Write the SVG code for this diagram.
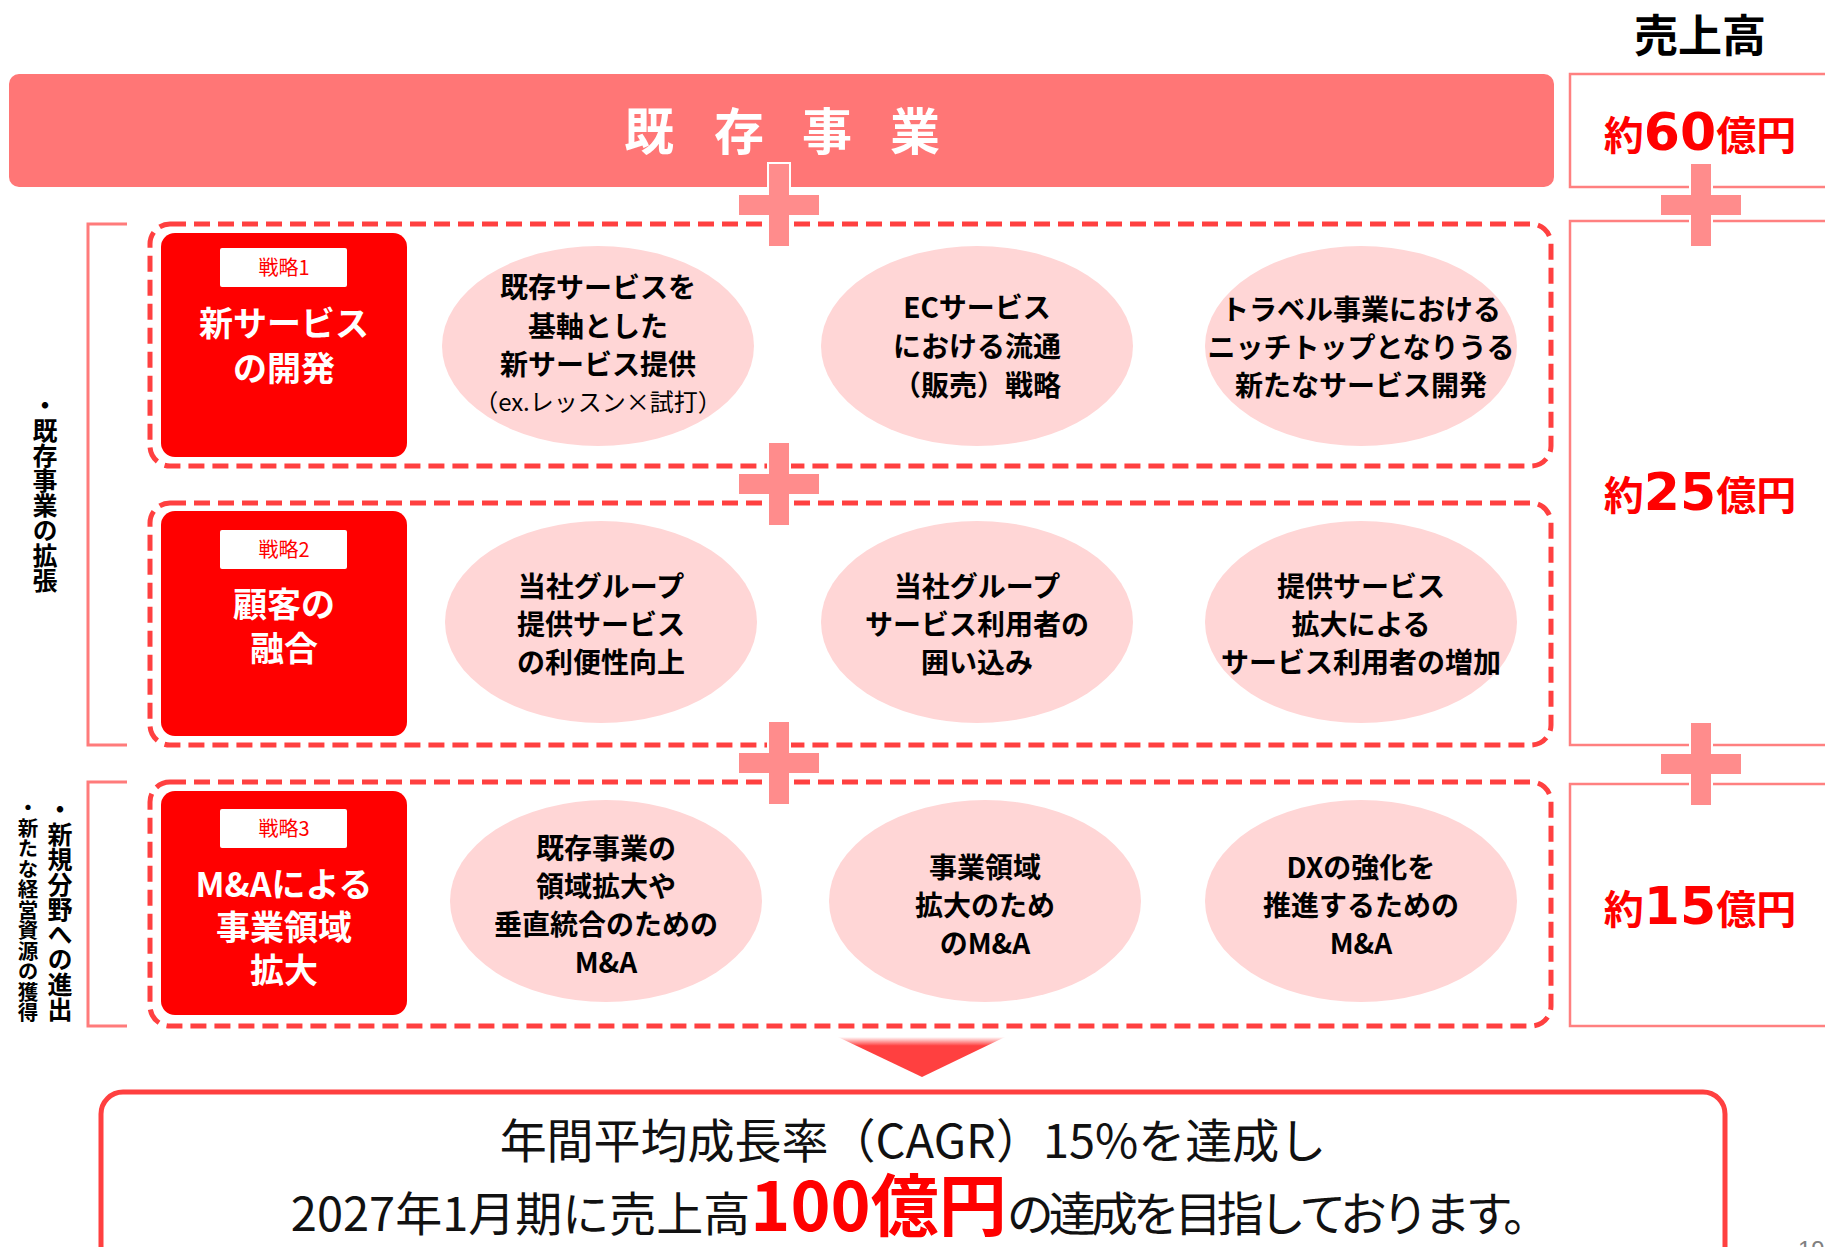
<svg xmlns="http://www.w3.org/2000/svg" width="1825" height="1247" viewBox="0 0 1825 1247">
<style>
.jp{font-family:"Noto Sans CJK JP","Noto Sans",sans-serif}
.ell{fill:#FFD6D6}
.et{font-family:"Noto Sans CJK JP",sans-serif;font-size:28px;font-weight:700;fill:#000;text-anchor:middle}
.et.sub{font-size:24px;font-weight:400}
.dash{fill:none;stroke:#FF4040;stroke-width:5;stroke-dasharray:16 8}
.rbox{fill:#fff;stroke:#FF8080;stroke-width:2.5}
.strat{fill:#FF0000}
.lbl{fill:#fff}
.lt{font-family:"Noto Sans CJK JP",sans-serif;font-size:20px;fill:#FF0000;text-anchor:middle}
.st{font-family:"Noto Sans CJK JP",sans-serif;font-size:34px;font-weight:700;fill:#fff;text-anchor:middle}
.val{font-family:"Noto Sans CJK JP",sans-serif;font-size:40px;font-weight:700;fill:#FF0000;text-anchor:middle}
.num{font-family:"DejaVu Sans",sans-serif;font-size:52px;font-weight:700}
.brk{fill:none;stroke:#FF7B7B;stroke-width:3}
.vt{font-family:"Noto Sans CJK JP",sans-serif;font-weight:700;fill:#000;writing-mode:vertical-rl;text-orientation:upright}
.plus{fill:#FF8C8C;stroke:#fff;stroke-width:2}
.concl{font-family:"Noto Sans CJK JP",sans-serif;font-size:47px;fill:#111;text-anchor:middle}
.big{font-size:68px;font-weight:700;fill:#FF0000}
.tight{letter-spacing:-5px}
</style>
<defs>
<path id="plusShape" d="M-11,-42 h22 v31 h30 v22 h-30 v31 h-22 v-31 h-30 v-22 h30 z"/>
<linearGradient id="triGrad" x1="0" y1="0" x2="0" y2="1">
<stop offset="0" stop-color="#FFFFFF"/>
<stop offset="0.22" stop-color="#FF4040"/>
<stop offset="1" stop-color="#FF4040"/>
</linearGradient>
</defs>
<rect width="1825" height="1247" fill="#fff"/>

<g id="header">
<text x="1700" y="52" class="jp" font-size="44" font-weight="700" text-anchor="middle" fill="#000">売上高</text>
</g>

<g id="existing-business">
<rect x="9" y="74" width="1545" height="113" rx="10" fill="#FF7676"/>
<text x="649 739 827 915" y="150" class="jp" font-size="50" font-weight="700" fill="#fff" text-anchor="middle">既存事業</text>
</g>

<g id="sales-boxes">
<rect class="rbox" x="1570" y="74" width="270" height="113"/>
<text x="1700" y="150" class="val">約<tspan class="num">60</tspan>億円</text>
<rect class="rbox" x="1570" y="221" width="270" height="524"/>
<text x="1700" y="510" class="val">約<tspan class="num">25</tspan>億円</text>
<rect class="rbox" x="1570" y="784" width="270" height="242"/>
<text x="1700" y="924" class="val">約<tspan class="num">15</tspan>億円</text>
</g>

<g id="brackets">
<path class="brk" d="M127,224 H88 V745 H127"/>
<path class="brk" d="M127,782 H88 V1026 H127"/>
<text x="45" y="393" class="vt" font-size="25">・既存事業の拡張</text>
<text x="60" y="797" class="vt" font-size="25">・新規分野への進出</text>
<text x="28" y="797" class="vt" font-size="20.5">・新たな経営資源の獲得</text>
</g>

<g id="strategy1">
<rect class="dash" x="150" y="224" width="1401" height="242" rx="20"/>
<rect class="strat" x="161" y="233" width="246" height="224" rx="14"/>
<rect class="lbl" x="220" y="248" width="127" height="39" rx="2"/>
<text x="284" y="275" class="lt">戦略1</text>
<text x="284" y="336" class="st">新サービス</text>
<text x="284" y="381" class="st">の開発</text>
<ellipse class="ell" cx="598" cy="346" rx="156" ry="100"/>
<text class="et" x="598" y="298">既存サービスを</text>
<text class="et" x="598" y="337">基軸とした</text>
<text class="et" x="598" y="375">新サービス提供</text>
<text class="et sub" x="598" y="411">（ex.レッスン×試打）</text>
<ellipse class="ell" cx="977" cy="346" rx="156" ry="100"/>
<text class="et" x="977" y="318">ECサービス</text>
<text class="et" x="977" y="357">における流通</text>
<text class="et" x="977" y="396">（販売）戦略</text>
<ellipse class="ell" cx="1361" cy="346" rx="156" ry="100"/>
<text class="et" x="1361" y="320">トラベル事業における</text>
<text class="et" x="1361" y="358">ニッチトップとなりうる</text>
<text class="et" x="1361" y="396">新たなサービス開発</text>
</g>

<g id="strategy2">
<rect class="dash" x="150" y="503" width="1401" height="242" rx="20"/>
<rect class="strat" x="161" y="511" width="246" height="225" rx="14"/>
<rect class="lbl" x="220" y="530" width="127" height="39" rx="2"/>
<text x="284" y="557" class="lt">戦略2</text>
<text x="284" y="617" class="st">顧客の</text>
<text x="284" y="661" class="st">融合</text>
<ellipse class="ell" cx="601" cy="622" rx="156" ry="101"/>
<text class="et" x="601" y="597">当社グループ</text>
<text class="et" x="601" y="635">提供サービス</text>
<text class="et" x="601" y="673">の利便性向上</text>
<ellipse class="ell" cx="977" cy="622" rx="156" ry="101"/>
<text class="et" x="977" y="597">当社グループ</text>
<text class="et" x="977" y="635">サービス利用者の</text>
<text class="et" x="977" y="673">囲い込み</text>
<ellipse class="ell" cx="1361" cy="622" rx="156" ry="101"/>
<text class="et" x="1361" y="597">提供サービス</text>
<text class="et" x="1361" y="635">拡大による</text>
<text class="et" x="1361" y="673">サービス利用者の増加</text>
</g>

<g id="strategy3">
<rect class="dash" x="150" y="782" width="1401" height="244" rx="20"/>
<rect class="strat" x="161" y="791" width="246" height="224" rx="14"/>
<rect class="lbl" x="220" y="809" width="127" height="39" rx="2"/>
<text x="284" y="836" class="lt">戦略3</text>
<text x="284" y="897" class="st">M&amp;Aによる</text>
<text x="284" y="940" class="st">事業領域</text>
<text x="284" y="983" class="st">拡大</text>
<ellipse class="ell" cx="606" cy="901" rx="156" ry="101"/>
<text class="et" x="606" y="859">既存事業の</text>
<text class="et" x="606" y="897">領域拡大や</text>
<text class="et" x="606" y="935">垂直統合のための</text>
<text class="et" x="606" y="973">M&amp;A</text>
<ellipse class="ell" cx="985" cy="901" rx="156" ry="101"/>
<text class="et" x="985" y="878">事業領域</text>
<text class="et" x="985" y="916">拡大のため</text>
<text class="et" x="985" y="954">のM&amp;A</text>
<ellipse class="ell" cx="1361" cy="901" rx="156" ry="101"/>
<text class="et" x="1361" y="878">DXの強化を</text>
<text class="et" x="1361" y="916">推進するための</text>
<text class="et" x="1361" y="954">M&amp;A</text>
</g>

<g id="connectors">
<use href="#plusShape" class="plus" x="779" y="205"/>
<use href="#plusShape" class="plus" x="779" y="484"/>
<use href="#plusShape" class="plus" x="779" y="763"/>
<use href="#plusShape" class="plus" x="1701" y="205"/>
<use href="#plusShape" class="plus" x="1701" y="764"/>
<polygon points="838,1037 1005,1037 922,1077" fill="url(#triGrad)"/>
</g>

<g id="conclusion">
<rect x="101" y="1092" width="1624" height="190" rx="22" fill="#fff" stroke="#FF4040" stroke-width="5"/>
<text x="913" y="1158" class="concl">年間平均成長率（CAGR）15%を達成し</text>
<text x="918" y="1231" class="concl">2027年1月期に売上高<tspan class="big">100億円</tspan><tspan class="tight">の達成を目指しております。</tspan></text>
</g>

<g id="page-number">
<text x="1798" y="1258" font-family="Liberation Sans,sans-serif" font-size="24" fill="#808080">19</text>
</g>
</svg>
